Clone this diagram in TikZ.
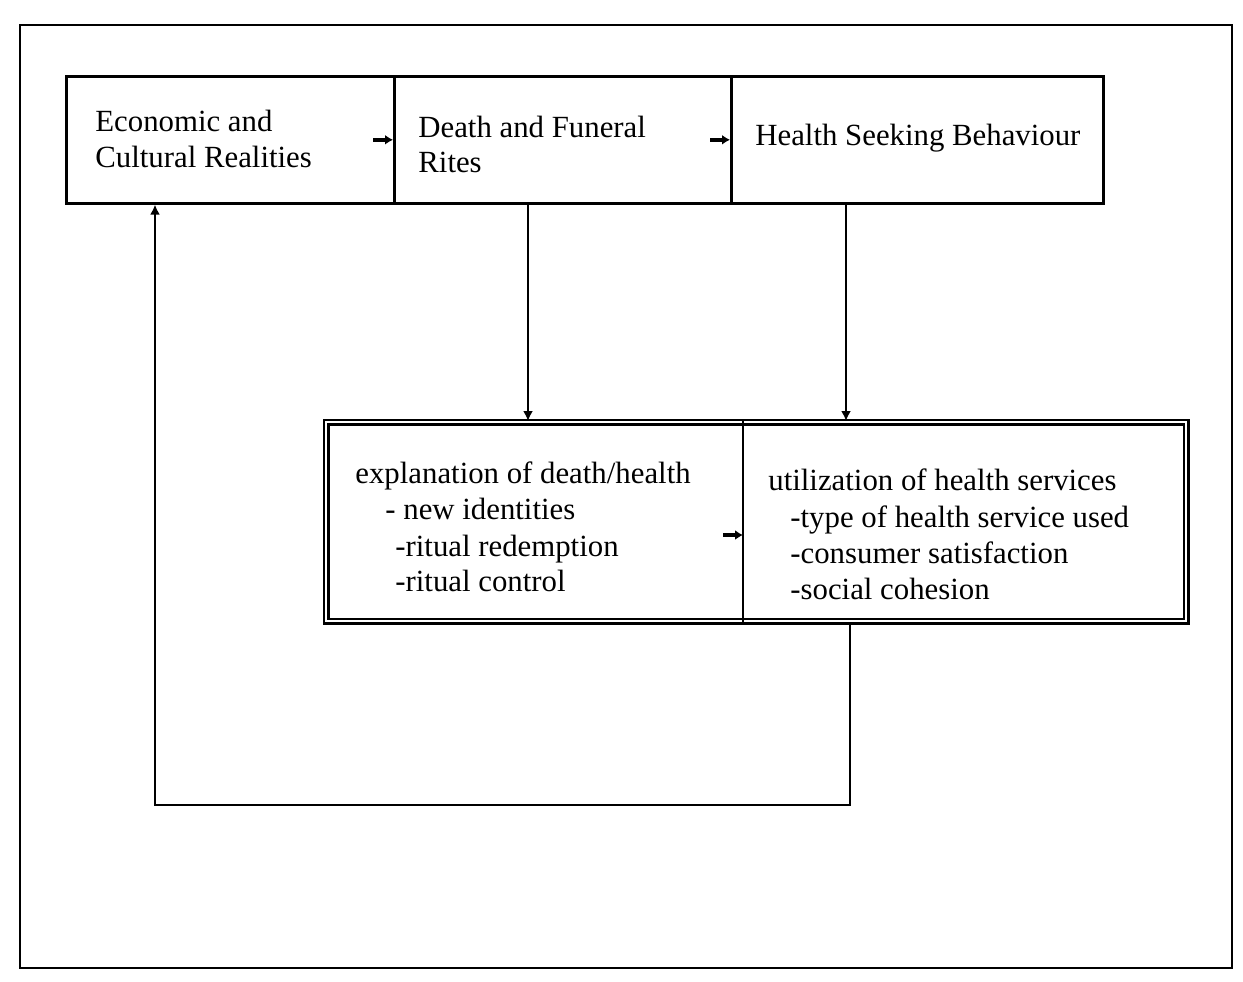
\documentclass[tikz,border=0pt]{standalone}
\usepackage{fontspec}
\setmainfont{Liberation Serif}
\usetikzlibrary{arrows.meta,calc}
\begin{document}
\begin{tikzpicture}[x=0.5pt,y=-0.5pt,
  box/.style={draw,line width=1.3pt,inner sep=0pt,anchor=north west},
  dbox/.style={draw,line width=1.1pt,double,double distance=1.2pt,inner sep=0pt,anchor=north west},
  lbl/.style={anchor=base west,inner sep=0pt,font=\fontsize{15.4}{18}\selectfont},
  arr/.style={line width=1.3pt,-{Latex[length=5pt,width=5pt]}},
  stub/.style={line width=2.2pt,-{Latex[length=4pt,width=5pt]}},
  lnk/.style={line width=1.3pt}]
\useasboundingbox (0,0) rectangle (1243,981);
% outer frame
\draw[line width=1.1pt] (20,25) rectangle (1232,968);
% top row of boxes
\node[box,minimum width=328*0.5pt,minimum height=127*0.5pt] (b1) at (65,75) {};
\node[box,minimum width=337*0.5pt,minimum height=127*0.5pt] (b2) at (393,75) {};
\node[box,minimum width=372*0.5pt,minimum height=127*0.5pt] (b3) at (730,75) {};
\node[lbl] (t1a) at (95,131) {Economic and};
\node[lbl] (t1b) at (95,167) {Cultural Realities};
\node[lbl] (t2a) at (418,137) {Death and Funeral};
\node[lbl] (t2b) at (418,172) {Rites};
\node[lbl] (t3a) at (755,145) {Health Seeking Behaviour};
% lower double-framed box split in two
\node[dbox,minimum width=860*0.5pt,minimum height=199*0.5pt] (low) at (325,421) {};
\coordinate (dv) at (743,0);
\draw[lnk] (low.north -| dv) -- (low.south -| dv);
\node[lbl] (l1) at (355,483) {explanation of death/health};
\node[lbl] (l2) at (385,519) {- new identities};
\node[lbl] (l3) at (395,556) {-ritual redemption};
\node[lbl] (l4) at (395,591) {-ritual control};
\node[lbl] (r1) at (768,490) {utilization of health services};
\node[lbl] (r2) at (790,527) {-type of health service used};
\node[lbl] (r3) at (790,563) {-consumer satisfaction};
\node[lbl] (r4) at (790,599) {-social cohesion};
% short horizontal links
\draw[stub] ($(b2.west)+(-20,0)$) -- (b2.west);
\draw[stub] ($(b3.west)+(-20,0)$) -- (b3.west);
\coordinate (inl) at (743,535);
\draw[stub] ($(inl)+(-20,0)$) -- (inl);
% vertical links
\coordinate (x1) at (528,0);
\coordinate (x2) at (846,0);
\draw[arr] (b2.south -| x1) -- (low.north -| x1);
\draw[arr] (b3.south -| x2) -- (low.north -| x2);
% feedback loop
\coordinate (c1) at (850,805);
\coordinate (c2) at (155,805);
\draw[arr] (low.south -| c1) -- (c1) -- (c2) -- (b1.south -| c2);
\end{tikzpicture}
\end{document}
